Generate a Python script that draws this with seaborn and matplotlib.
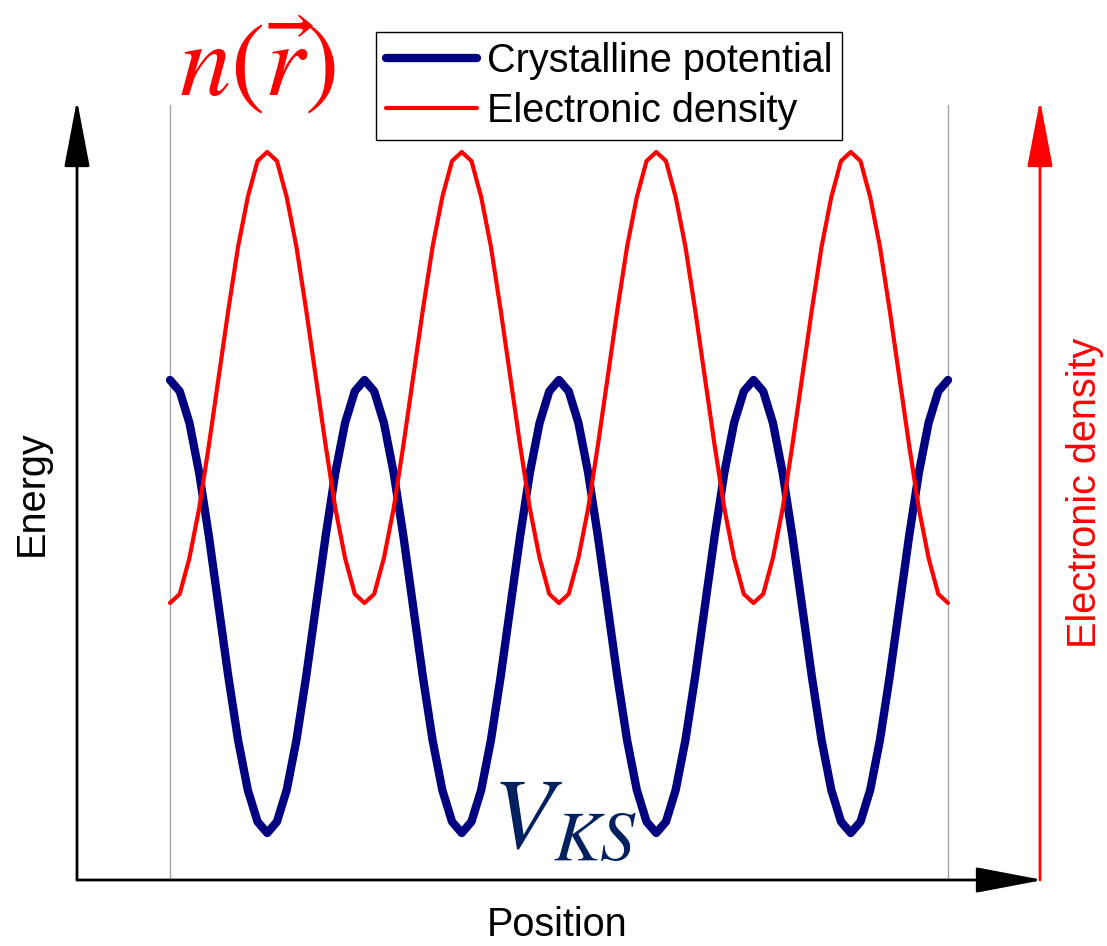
import matplotlib
matplotlib.use("Agg")
import matplotlib.pyplot as plt
import seaborn as sns
import pandas as pd

# ---- data ----
position = [
    0.00, 0.05, 0.10, 0.15, 0.20, 0.25, 0.30, 0.35, 0.40, 0.45,
    0.50, 0.55, 0.60, 0.65, 0.70, 0.75, 0.80, 0.85, 0.90, 0.95,
    1.00, 1.05, 1.10, 1.15, 1.20, 1.25, 1.30, 1.35, 1.40, 1.45,
    1.50, 1.55, 1.60, 1.65, 1.70, 1.75, 1.80, 1.85, 1.90, 1.95,
    2.00, 2.05, 2.10, 2.15, 2.20, 2.25, 2.30, 2.35, 2.40, 2.45,
    2.50, 2.55, 2.60, 2.65, 2.70, 2.75, 2.80, 2.85, 2.90, 2.95,
    3.00, 3.05, 3.10, 3.15, 3.20, 3.25, 3.30, 3.35, 3.40, 3.45,
    3.50, 3.55, 3.60, 3.65, 3.70, 3.75, 3.80, 3.85, 3.90, 3.95,
    4.00,
]
crystalline_potential = [
    1.00, 0.95, 0.81, 0.59, 0.31, 0.00, -0.31, -0.59, -0.81, -0.95,
    -1.00, -0.95, -0.81, -0.59, -0.31, 0.00, 0.31, 0.59, 0.81, 0.95,
    1.00, 0.95, 0.81, 0.59, 0.31, 0.00, -0.31, -0.59, -0.81, -0.95,
    -1.00, -0.95, -0.81, -0.59, -0.31, 0.00, 0.31, 0.59, 0.81, 0.95,
    1.00, 0.95, 0.81, 0.59, 0.31, 0.00, -0.31, -0.59, -0.81, -0.95,
    -1.00, -0.95, -0.81, -0.59, -0.31, 0.00, 0.31, 0.59, 0.81, 0.95,
    1.00, 0.95, 0.81, 0.59, 0.31, 0.00, -0.31, -0.59, -0.81, -0.95,
    -1.00, -0.95, -0.81, -0.59, -0.31, 0.00, 0.31, 0.59, 0.81, 0.95,
    1.00,
]
electronic_density = [
    0.00, 0.02, 0.10, 0.21, 0.35, 0.50, 0.65, 0.79, 0.90, 0.98,
    1.00, 0.98, 0.90, 0.79, 0.65, 0.50, 0.35, 0.21, 0.10, 0.02,
    0.00, 0.02, 0.10, 0.21, 0.35, 0.50, 0.65, 0.79, 0.90, 0.98,
    1.00, 0.98, 0.90, 0.79, 0.65, 0.50, 0.35, 0.21, 0.10, 0.02,
    0.00, 0.02, 0.10, 0.21, 0.35, 0.50, 0.65, 0.79, 0.90, 0.98,
    1.00, 0.98, 0.90, 0.79, 0.65, 0.50, 0.35, 0.21, 0.10, 0.02,
    0.00, 0.02, 0.10, 0.21, 0.35, 0.50, 0.65, 0.79, 0.90, 0.98,
    1.00, 0.98, 0.90, 0.79, 0.65, 0.50, 0.35, 0.21, 0.10, 0.02,
    0.00,
]
series_labels = ["Crystalline potential", "Electronic density"]

df = pd.DataFrame({"position": position,
                   "potential": crystalline_potential,
                   "density": electronic_density})

sns.set_style("white")
plt.rcParams["font.family"] = ["Liberation Sans", "DejaVu Sans"]
plt.rcParams["mathtext.fontset"] = "stix"
plt.rcParams["text.color"] = "black"

W, H = 1107, 946
fig = plt.figure(figsize=(W / 100, H / 100), dpi=100)

# axes area in pixels: x 77..1040, y 105..880 (top-down)
L, R, T, B = 77, 1040, 105, 880
ax = fig.add_axes([L / W, (H - B) / H, (R - L) / W, (B - T) / H])
ax2 = ax.twinx()

# x scale: position 0 -> px 170, 4 -> px 948
pxu = (948 - 170) / 4.0
ax.set_xlim(-(170 - L) / pxu, 4 + (R - 948) / pxu)

# blue: +1 -> px 380, -1 -> px 833
bu = (833 - 380) / 2.0
ax.set_ylim(-1 - (B - 833) / bu, 1 + (380 - T) / bu)
# red: 1 -> px 152, 0 -> px 603
ru = (603 - 152)
ax2.set_ylim(-(B - 603) / ru, 1 + (152 - T) / ru)

ax.axvline(0, color="#a6a6a6", lw=1, zorder=0)
ax.axvline(4, color="#a6a6a6", lw=1, zorder=0)

sns.lineplot(data=df, x="position", y="potential", ax=ax, color="#000080",
             lw=6, label=series_labels[0], legend=False)
sns.lineplot(data=df, x="position", y="density", ax=ax2, color="#ff0000",
             lw=3, label=series_labels[1], legend=False)
for a in (ax, ax2):
    for s in a.spines.values():
        s.set_visible(False)
    a.patch.set_visible(False)
    a.set_xlabel("")
    a.set_ylabel("")
    a.set_xticks([])
    a.set_yticks([])


# arrows (figure pixels, origin bottom-left)
def arrow(x0, y0, x1, y1, color):
    ax.annotate("", xy=(x1, H - y1), xytext=(x0, H - y0),
                xycoords="figure pixels", textcoords="figure pixels",
                arrowprops=dict(arrowstyle="-|>,head_length=42,head_width=8",
                                mutation_scale=1, color=color, lw=2,
                                shrinkA=0, shrinkB=0),
                annotation_clip=False)


arrow(77, 880, 77, 100, "black")
arrow(77, 880, 1043, 880, "black")
arrow(1040, 880, 1040, 100, "#ff0000")

fs = 28.5
fig.text(32 / W, 1 - 493 / H, "Energy", rotation=90, ha="center", va="center",
         fontsize=fs, color="black")
fig.text(557 / W, 1 - 925 / H, "Position", ha="center", va="center",
         fontsize=fs, color="black")
fig.text(1085 / W, 1 - 493 / H, "Electronic density", rotation=90,
         ha="center", va="center", fontsize=fs, color="#ff0000")

fig.text(257 / W, 1 - 66 / H, r"$n(\vec{r})$", ha="center", va="center",
         fontsize=74, color="#ff0000")
fig.text(565 / W, 1 - 822 / H, r"$V_{KS}$", ha="center", va="center",
         fontsize=72, color="#002060")

h1, l1 = ax.get_legend_handles_labels()
h2, l2 = ax2.get_legend_handles_labels()
leg = fig.legend(h1 + h2, l1 + l2, loc="upper left",
                 bbox_to_anchor=(376 / W, 1 - 32 / H), borderaxespad=0,
                 fontsize=fs, frameon=True, fancybox=False,
                 handlelength=2.3, handletextpad=0.25, labelspacing=0.3,
                 borderpad=0.25)
leg.get_frame().set_edgecolor("black")
leg.get_frame().set_linewidth(1)
leg.get_frame().set_alpha(1)
for t in leg.get_texts():
    t.set_color("black")

fig.savefig("out.png", dpi=100)
